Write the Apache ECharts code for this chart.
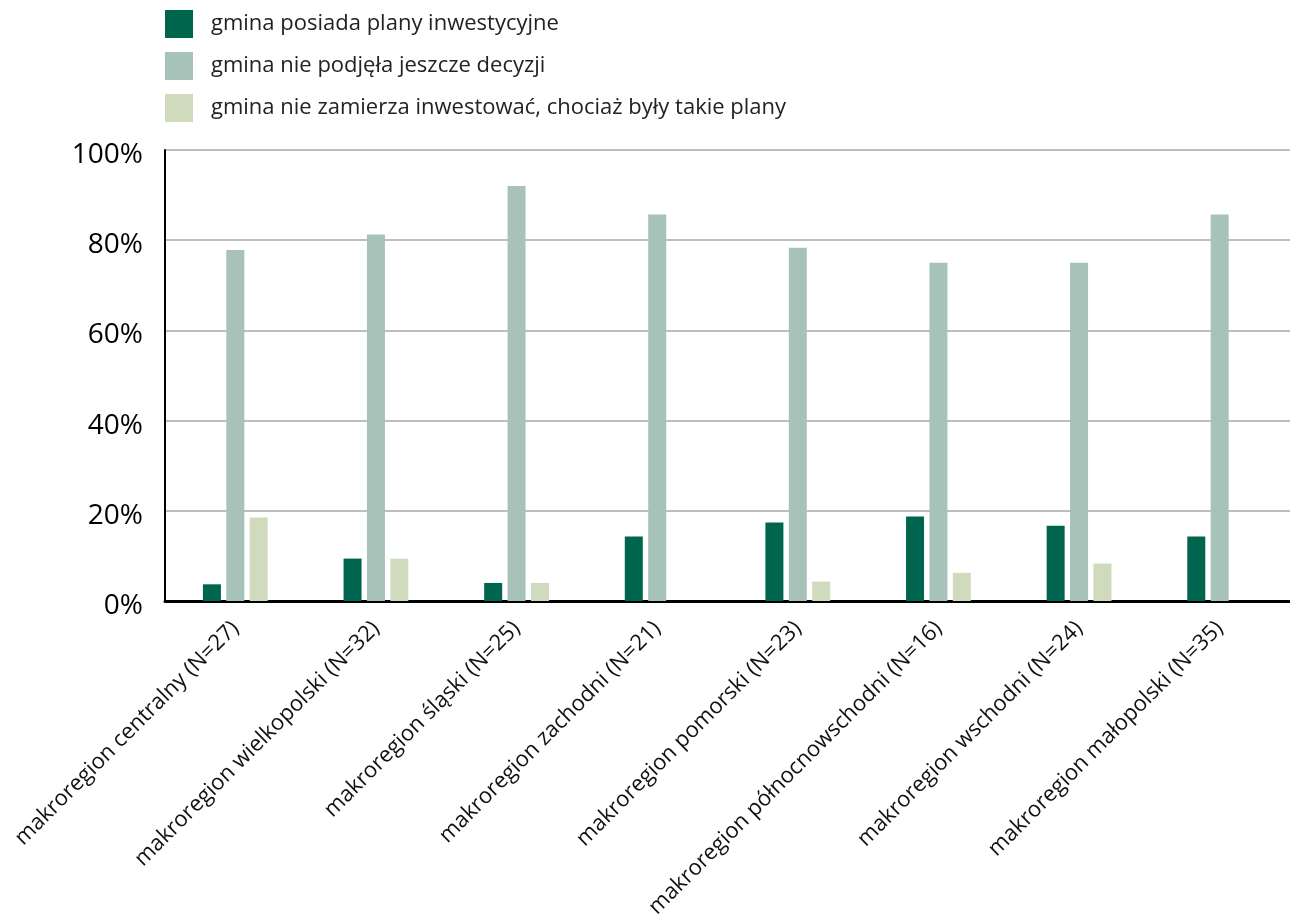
<!DOCTYPE html>
<html><head><meta charset="utf-8">
<script src="https://cdn.jsdelivr.net/npm/echarts@6/dist/echarts.min.js"></script>
<style>html,body{margin:0;padding:0;background:#fff}#c{width:1290px;height:922px}</style>
</head><body><div id="c"></div>
<script>
const categories = ['makroregion centralny (N=27)','makroregion wielkopolski (N=32)','makroregion śląski (N=25)','makroregion zachodni (N=21)','makroregion pomorski (N=23)','makroregion północnowschodni (N=16)','makroregion wschodni (N=24)','makroregion małopolski (N=35)'];
const seriesNames = ['gmina posiada plany inwestycyjne','gmina nie podjęła jeszcze decyzji','gmina nie zamierza inwestować, chociaż były takie plany'];
const hasPlans = [3.7, 9.4, 4.0, 14.3, 17.4, 18.75, 16.7, 14.3];
const undecided = [77.8, 81.25, 92.0, 85.7, 78.3, 75.0, 75.0, 85.7];
const noInvest = [18.5, 9.4, 4.0, 0, 4.3, 6.25, 8.3, 0];
const yTicks = [0, 20, 40, 60, 80, 100];
const colors = ['#00654F', '#A7C2B8', '#D0DBBE'];
const FONT = '"Open Sans", "Noto Sans", sans-serif';

const chart = echarts.init(document.getElementById('c'), null, {renderer: 'canvas'});
const values = [hasPlans, undecided, noInvest];
chart.setOption({
  animation: false,
  textStyle: {fontFamily: FONT},
  color: colors,
  legend: {
    orient: 'vertical', left: 165, top: 10, padding: 0,
    itemWidth: 28, itemHeight: 28, itemGap: 14, icon: 'rect',
    textStyle: {fontSize: 22, color: '#222', fontFamily: FONT, padding: [2, 0, 0, 13]},
    data: seriesNames
  },
  grid: {left: 165, top: 150, width: 1131, height: 451, containLabel: false},
  xAxis: {
    type: 'category', data: categories,
    axisLine: {lineStyle: {color: '#000', width: 3}},
    axisTick: {inside: true, length: 10, lineStyle: {color: '#000', width: 3}},
    axisLabel: {rotate: 45, margin: 24, fontSize: 22, color: '#111', fontFamily: FONT, interval: 0}
  },
  yAxis: {
    type: 'value', min: 0, max: 100, interval: 20,
    axisLine: {show: true, lineStyle: {color: '#000', width: 2}},
    axisTick: {show: false},
    splitLine: {lineStyle: {color: '#a9a9a9', width: 1.5}},
    axisLabel: {formatter: '{value}%', fontSize: 28, color: '#000', margin: 22, verticalAlign: 'top', lineHeight: 10, fontFamily: FONT}
  },
  series: seriesNames.map((n, i) => ({
    name: n, type: 'bar', data: values[i], barWidth: 18, barGap: '30%',
    itemStyle: {color: colors[i]}
  }))
});
</script></body></html>
